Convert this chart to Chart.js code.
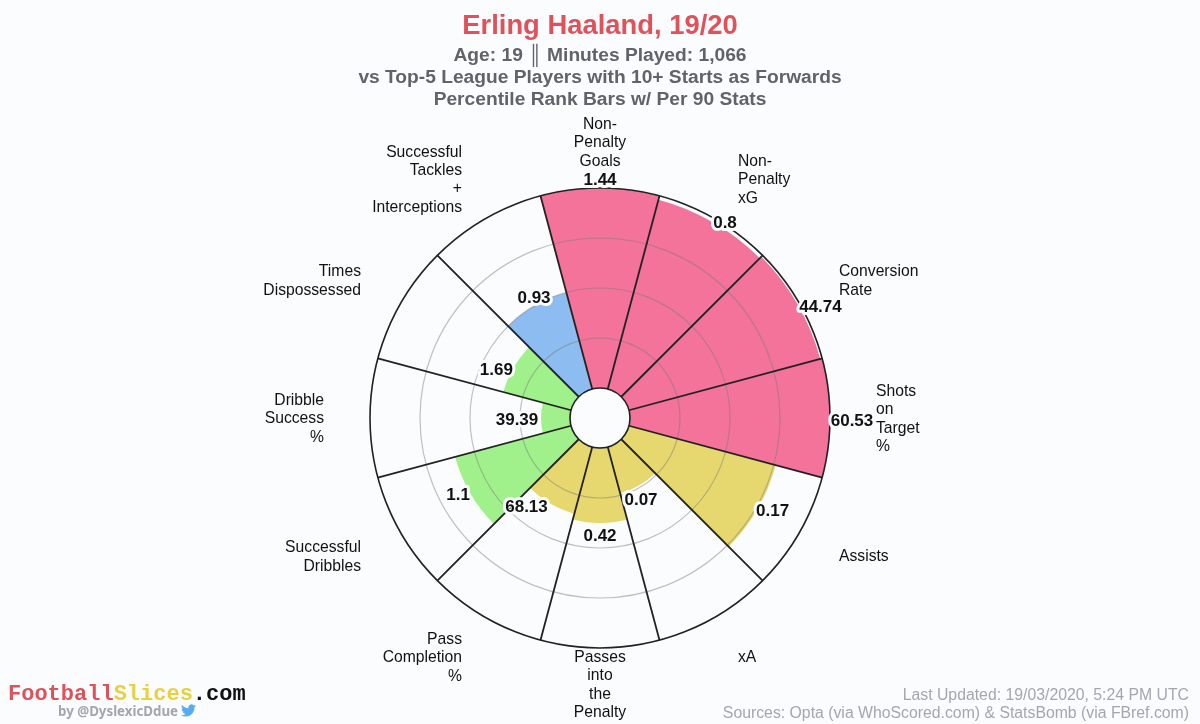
<!DOCTYPE html>
<html>
<head>
<meta charset="utf-8">
<title>Erling Haaland, 19/20</title>
<script src="https://cdn.jsdelivr.net/npm/chart.js@4"></script>
<style>
    html, body { margin: 0; padding: 0; background: #fbfcfe; }
    #wrap { position: relative; width: 1200px; height: 724px; overflow: hidden; }
    canvas { display: block; }
    .brand { position: absolute; left: 8px; top: 682px; font: bold 22px/26px "Liberation Mono", monospace; color: #111; white-space: nowrap; }
    .byline { position: absolute; left: 58px; top: 703px; font: bold 13.3px/17px "Noto Sans", sans-serif; color: #a3a6aa; white-space: nowrap; }
    .bird { position: absolute; left: 181px; top: 703px; width: 15px; height: 15px; }
    .sources { position: absolute; right: 11px; top: 686px; text-align: right; font: 15.8px/18px "Liberation Sans", sans-serif; color: #a4a7aa; white-space: nowrap; }
</style>
</head>
<body>
<div id="wrap">
    <canvas id="chart" width="1200" height="724"></canvas>
    <div class="brand"><span style="color:#e0525a">Football</span><span style="color:#e8d13f">Slices</span>.com</div>
    <div class="byline">by @DyslexicDdue</div>
    <svg class="bird" viewBox="0 0 24 24"><path fill="#55acee" d="M23.953 4.57a10 10 0 01-2.825.775 4.958 4.958 0 002.163-2.723c-.951.555-2.005.959-3.127 1.184a4.92 4.92 0 00-8.384 4.482C7.69 8.095 4.067 6.13 1.64 3.162a4.822 4.822 0 00-.666 2.475c0 1.71.87 3.213 2.188 4.096a4.904 4.904 0 01-2.228-.616v.06a4.923 4.923 0 003.946 4.827 4.996 4.996 0 01-2.212.085 4.936 4.936 0 004.604 3.417 9.867 9.867 0 01-6.102 2.105c-.39 0-.779-.023-1.17-.067a13.995 13.995 0 007.557 2.209c9.053 0 13.998-7.496 13.998-13.985 0-.21 0-.42-.015-.63A9.935 9.935 0 0024 4.59z"/></svg>
    <div class="sources">Last Updated: 19/03/2020, 5:24 PM UTC<br>Sources: Opta (via WhoScored.com) &amp; StatsBomb (via FBref.com)</div>
</div>
<script>
const categories = [
    ['Non-', 'Penalty', 'Goals'],
    ['Non-', 'Penalty', 'xG'],
    ['Conversion', 'Rate'],
    ['Shots', 'on', 'Target', '%'],
    ['Assists'],
    ['xA'],
    ['Passes', 'into', 'the', 'Penalty'],
    ['Pass', 'Completion', '%'],
    ['Successful', 'Dribbles'],
    ['Dribble', 'Success', '%'],
    ['Times', 'Dispossessed'],
    ['Successful', 'Tackles', '+', 'Interceptions']
];
const percentiles = [100, 98, 99, 100, 76, 24, 37.5, 34.5, 60, 14.5, 35, 50];
const per90Labels = ['1.44', '0.8', '44.74', '60.53', '0.17', '0.07', '0.42', '68.13', '1.1', '39.39', '1.69', '0.93'];
const ringTicks = [0, 25, 50, 75, 100];

const barColors = [
    '#f4739a', '#f4739a', '#f4739a', '#f4739a',
    '#e6d86e', '#e6d86e', '#e6d86e', '#e6d86e',
    '#a0f08c', '#a0f08c', '#a0f08c',
    '#8cbcf0'
];

// pixels from the end of each bar to the middle of its number
const labelNudge = [
    [0, -9], [12, 0], [23, 2], [22, 2], [15, 1], [2, 14],
    [0, 12], [-24, 3], [-12, 1], [-24, 1], [-17, 1], [-1, -8]
];

const pageColor = '#fbfcfe';
const lineColor = '#222';
const textFont = '"Liberation Sans", Arial, sans-serif';

const sliceLabels = {
    id: 'sliceLabels',
    afterDraw(chart) {
        const ctx = chart.ctx;
        const scale = chart.scales.r;
        const halfSlice = Math.PI / categories.length;
        const centre = scale.getPointPosition(0, 0);

        // hole in the middle
        ctx.save();
        ctx.beginPath();
        ctx.arc(scale.xCenter, scale.yCenter, scale.getDistanceFromCenterForValue(0), 0, Math.PI * 2);
        ctx.fillStyle = pageColor;
        ctx.fill();
        ctx.lineWidth = 1.6;
        ctx.strokeStyle = lineColor;
        ctx.stroke();

        // category names
        const lineHeight = 18.4;
        ctx.font = '15.7px ' + textFont;
        ctx.fillStyle = '#111';
        ctx.textBaseline = 'middle';
        categories.forEach((lines, i) => {
            const p = scale.getPointPosition(i, 276, halfSlice);
            const off = p.x - centre.x;
            ctx.textAlign = Math.abs(off) < 1 ? 'center' : (off > 0 ? 'left' : 'right');
            const blockHeight = lines.length * lineHeight;
            const top = Math.min(p.y - blockHeight / 2, chart.height - 3 - blockHeight);
            lines.forEach((line, n) => {
                ctx.fillText(line, p.x, top + 1 + lineHeight * (n + 0.5));
            });
        });

        // per 90 numbers with a halo
        ctx.font = 'bold 17px ' + textFont;
        ctx.textAlign = 'center';
        ctx.lineJoin = 'round';
        per90Labels.forEach((text, i) => {
            const p = scale.getPointPosition(i, scale.getDistanceFromCenterForValue(percentiles[i]), halfSlice);
            const x = p.x + labelNudge[i][0];
            const y = p.y + labelNudge[i][1] + 1;
            ctx.lineWidth = 6;
            ctx.strokeStyle = pageColor;
            ctx.strokeText(text, x, y);
            ctx.fillStyle = '#111';
            ctx.fillText(text, x, y);
        });
        ctx.restore();
    }
};

new Chart(document.getElementById('chart').getContext('2d'), {
    type: 'polarArea',
    data: {
        labels: categories.map(lines => lines.join(' ')),
        datasets: [{
            data: percentiles,
            backgroundColor: barColors,
            borderWidth: 0
        }]
    },
    plugins: [sliceLabels],
    options: {
        responsive: false,
        animation: false,
        layout: { padding: { top: 0, bottom: 75 } },
        plugins: {
            legend: { display: false },
            tooltip: { enabled: false },
            title: {
                display: true,
                text: 'Erling Haaland, 19/20',
                color: '#e0525a',
                font: { family: textFont, size: 27.4, weight: 'bold', lineHeight: 1.2 },
                padding: { top: 10, bottom: 0 }
            },
            subtitle: {
                display: true,
                text: [
                    'Age: 19 ║ Minutes Played: 1,066',
                    'vs Top-5 League Players with 10+ Starts as Forwards',
                    'Percentile Rank Bars w/ Per 90 Stats'
                ],
                color: '#606468',
                font: { family: textFont, size: 19.2, weight: 'bold', lineHeight: 1.146 },
                padding: { top: 2, bottom: 78 }
            }
        },
        scales: {
            r: {
                min: -15,
                max: 100,
                startAngle: -15,
                afterBuildTicks: scale => {
                    scale.ticks = ringTicks.map(value => ({ value: value }));
                },
                ticks: { display: false },
                pointLabels: { display: false },
                angleLines: { display: true, color: lineColor, lineWidth: 1.8 },
                grid: {
                    circular: true,
                    z: 1,
                    color: ctx => ctx.tick.value === 100 ? lineColor : 'rgba(120, 120, 120, 0.45)',
                    lineWidth: ctx => ctx.tick.value === 100 ? 1.6 : 1.2
                }
            }
        }
    }
});
</script>
</body>
</html>
